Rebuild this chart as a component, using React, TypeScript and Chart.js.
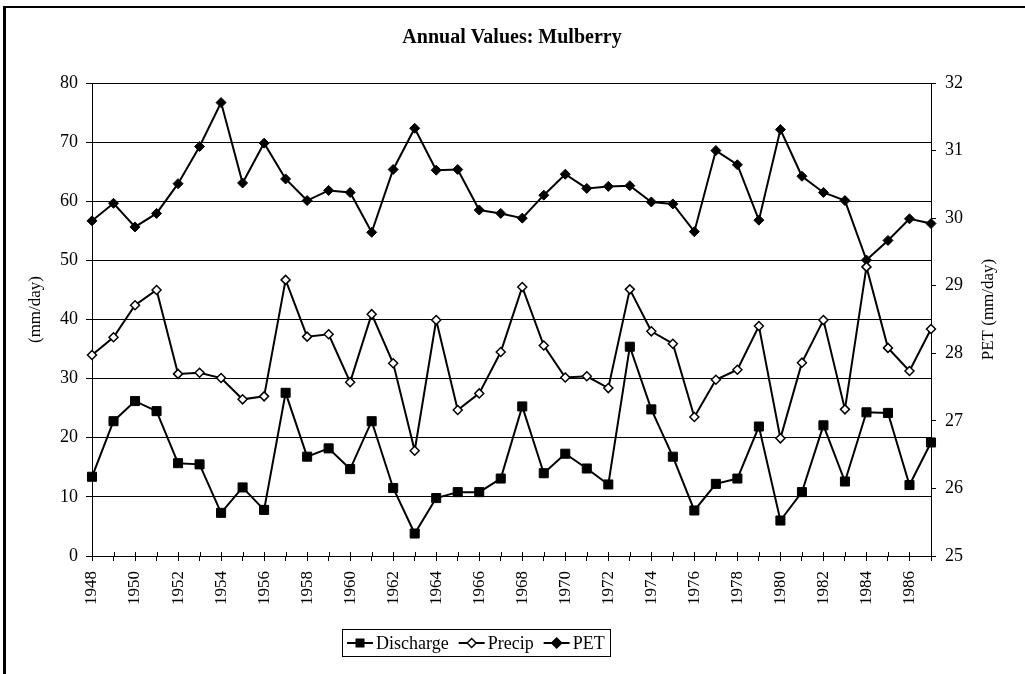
import React, { useEffect, useRef } from "react";
import { Chart, registerables } from "chart.js";

Chart.register(...registerables);

const years = [
  "1948", "1949", "1950", "1951", "1952", "1953", "1954", "1955", "1956", "1957",
  "1958", "1959", "1960", "1961", "1962", "1963", "1964", "1965", "1966", "1967",
  "1968", "1969", "1970", "1971", "1972", "1973", "1974", "1975", "1976", "1977",
  "1978", "1979", "1980", "1981", "1982", "1983", "1984", "1985", "1986", "1987",
];

const discharge = [
  13.4, 22.8, 26.2, 24.5, 15.7, 15.5, 7.3, 11.6, 7.8, 27.6,
  16.8, 18.2, 14.7, 22.8, 11.5, 3.8, 9.8, 10.8, 10.8, 13.1,
  25.3, 14.0, 17.3, 14.8, 12.1, 35.4, 24.8, 16.8, 7.7, 12.2,
  13.1, 21.9, 6.0, 10.8, 22.1, 12.6, 24.3, 24.2, 12.0, 19.2,
];

const precip = [
  34.0, 37.0, 42.4, 45.0, 30.8, 31.0, 30.1, 26.5, 27.0, 46.7,
  37.1, 37.5, 29.4, 40.9, 32.6, 17.8, 39.9, 24.7, 27.5, 34.5,
  45.5, 35.6, 30.2, 30.4, 28.4, 45.1, 38.0, 35.9, 23.5, 29.8,
  31.5, 38.9, 19.9, 32.7, 39.9, 24.8, 48.9, 35.2, 31.3, 38.4,
];

const pet = [
  29.96, 30.22, 29.87, 30.07, 30.51, 31.06, 31.71, 30.52, 31.11, 30.58,
  30.26, 30.41, 30.38, 29.79, 30.72, 31.33, 30.71, 30.72, 30.12, 30.07,
  30.0, 30.34, 30.65, 30.44, 30.47, 30.48, 30.24, 30.21, 29.8, 31.0,
  30.79, 29.97, 31.31, 30.62, 30.38, 30.26, 29.38, 29.67, 29.99, 29.92,
];

const leftRange = { min: 0, max: 80, step: 10 };
const rightRange = { min: 25, max: 32, step: 1 };

const titleText = "Annual Values: Mulberry";
const leftTitle = "(mm/day)";
const rightTitle = "PET (mm/day)";

const SERIF = '"Liberation Serif", "Times New Roman", serif';

type MarkerKind = "square" | "hollowDiamond" | "diamond";

function drawMarker(ctx: CanvasRenderingContext2D, kind: MarkerKind, x: number, y: number) {
  ctx.save();
  ctx.lineWidth = 1.5;
  ctx.strokeStyle = "#000";
  if (kind === "square") {
    ctx.fillStyle = "#000";
    ctx.fillRect(x - 4.5, y - 4.5, 9, 9);
  } else {
    const r = kind === "diamond" ? 5 : 4.5;
    ctx.beginPath();
    ctx.moveTo(x, y - r);
    ctx.lineTo(x + r, y);
    ctx.lineTo(x, y + r);
    ctx.lineTo(x - r, y);
    ctx.closePath();
    ctx.fillStyle = kind === "diamond" ? "#000" : "#fff";
    ctx.fill();
    ctx.stroke();
  }
  ctx.restore();
}

const markerKinds: MarkerKind[] = ["square", "hollowDiamond", "diamond"];

const decorPlugin = {
  id: "decor",
  afterDraw(chart: any) {
    const { ctx, chartArea } = chart;
    const midY = (chartArea.top + chartArea.bottom) / 2 - 10;

    ctx.save();
    // Title
    ctx.fillStyle = "#000";
    ctx.font = `bold 20px ${SERIF}`;
    ctx.textAlign = "center";
    ctx.textBaseline = "middle";
    ctx.fillText(titleText, 512, 38);

    // Axis titles (both read bottom-to-top)
    ctx.font = `17px ${SERIF}`;
    ctx.save();
    ctx.translate(36, midY);
    ctx.rotate(-Math.PI / 2);
    ctx.fillText(leftTitle, 0, 0);
    ctx.restore();
    ctx.save();
    ctx.translate(989, midY);
    ctx.rotate(-Math.PI / 2);
    ctx.fillText(rightTitle, 0, 0);
    ctx.restore();

    // x-axis ticks crossing into the plot
    const xs = chart.scales.x;
    ctx.strokeStyle = "#000";
    ctx.lineWidth = 1;
    for (let i = 0; i < xs.ticks.length; i++) {
      const px = Math.round(xs.getPixelForTick(i)) + 0.5;
      ctx.beginPath();
      ctx.moveTo(px, chartArea.bottom - 4);
      ctx.lineTo(px, chartArea.bottom);
      ctx.stroke();
    }

    // Legend box
    ctx.font = `18px ${SERIF}`;
    ctx.textAlign = "left";
    const sample = 26;
    const gapS = 3;
    const gapB = 10;
    const padX = 5;
    const labels = chart.data.datasets.map((d: any) => d.label as string);
    let total = padX * 2;
    labels.forEach((l: string, i: number) => {
      total += sample + gapS + ctx.measureText(l).width + (i < labels.length - 1 ? gapB : 0);
    });
    const boxTop = 629;
    const boxH = 27;
    const boxLeft = Math.round(476 - total / 2);
    ctx.strokeStyle = "#000";
    ctx.lineWidth = 1;
    ctx.strokeRect(boxLeft + 0.5, boxTop + 0.5, Math.round(total), boxH);
    let cx = boxLeft + padX;
    const cy = boxTop + boxH / 2 + 0.5;
    labels.forEach((l: string, i: number) => {
      ctx.beginPath();
      ctx.lineWidth = 2;
      ctx.moveTo(cx, cy);
      ctx.lineTo(cx + sample, cy);
      ctx.stroke();
      drawMarker(ctx, markerKinds[i], cx + sample / 2, cy);
      cx += sample + gapS;
      ctx.fillStyle = "#000";
      ctx.textBaseline = "middle";
      ctx.fillText(l, cx, cy + 1);
      cx += ctx.measureText(l).width + gapB;
    });
    ctx.restore();
  },
};

export default function App() {
  const ref = useRef<HTMLCanvasElement | null>(null);

  useEffect(() => {
    if (!ref.current) return;
    const tickFont = { family: SERIF, size: 18 };
    const xFont = { family: SERIF, size: 17 };
    const chart = new Chart(ref.current, {
      type: "line",
      data: {
        labels: years,
        datasets: [
          {
            label: "Discharge",
            data: discharge,
            yAxisID: "y",
            borderColor: "#000",
            borderWidth: 2,
            pointStyle: "rect",
            pointRadius: 6.4,
            pointBackgroundColor: "#000",
            pointBorderColor: "#000",
            pointBorderWidth: 1,
            tension: 0,
          },
          {
            label: "Precip",
            data: precip,
            yAxisID: "y",
            borderColor: "#000",
            borderWidth: 2,
            pointStyle: "rectRot",
            pointRadius: 4.5,
            pointBackgroundColor: "#fff",
            pointBorderColor: "#000",
            pointBorderWidth: 1.5,
            tension: 0,
          },
          {
            label: "PET",
            data: pet,
            yAxisID: "y2",
            borderColor: "#000",
            borderWidth: 2,
            pointStyle: "rectRot",
            pointRadius: 5,
            pointBackgroundColor: "#000",
            pointBorderColor: "#000",
            pointBorderWidth: 1,
            tension: 0,
          },
        ],
      },
      options: {
        responsive: false,
        animation: false,
        events: [],
        layout: { padding: { top: 83, left: 0, right: 0, bottom: 0 } },
        plugins: {
          legend: { display: false },
          title: { display: false },
          tooltip: { enabled: false },
        },
        scales: {
          x: {
            type: "category",
            offset: false,
            grid: { drawOnChartArea: false, drawTicks: true, tickLength: 5, color: "#000" },
            border: { color: "#000", width: 1 },
            ticks: {
              autoSkip: false,
              maxRotation: 90,
              minRotation: 90,
              padding: 10,
              color: "#000",
              font: xFont,
              callback: (_v: any, i: number) => (i % 2 === 0 ? years[i] : ""),
            },
            afterFit: (s: any) => {
              s.height = 118;
            },
          },
          y: {
            position: "left",
            min: leftRange.min,
            max: leftRange.max,
            grid: { color: "#000", lineWidth: 1, tickLength: 6 },
            border: { color: "#000", width: 1 },
            ticks: { stepSize: leftRange.step, padding: 8, color: "#000", font: tickFont },
            afterFit: (s: any) => {
              s.width = 92;
            },
          },
          y2: {
            position: "right",
            min: rightRange.min,
            max: rightRange.max,
            grid: { drawOnChartArea: false, color: "#000", tickLength: 5 },
            border: { color: "#000", width: 1 },
            ticks: { stepSize: rightRange.step, padding: 9, color: "#000", font: tickFont },
            afterFit: (s: any) => {
              s.width = 94;
            },
          },
        },
      },
      plugins: [decorPlugin],
    });
    return () => chart.destroy();
  }, []);

  return (
    <div
      style={{
        position: "absolute",
        left: 0,
        top: 0,
        width: 1025,
        height: 674,
        background: "#fff",
        overflow: "hidden",
      }}
    >
      <div
        style={{
          position: "absolute",
          left: 3,
          top: 6,
          width: 1030,
          height: 700,
          borderLeft: "3px solid #000",
          borderTop: "2px solid #000",
          boxSizing: "border-box",
        }}
      />
      <canvas ref={ref} width={1025} height={674} style={{ position: "absolute", left: 0, top: 0, width: 1025, height: 674 }} />
    </div>
  );
}
